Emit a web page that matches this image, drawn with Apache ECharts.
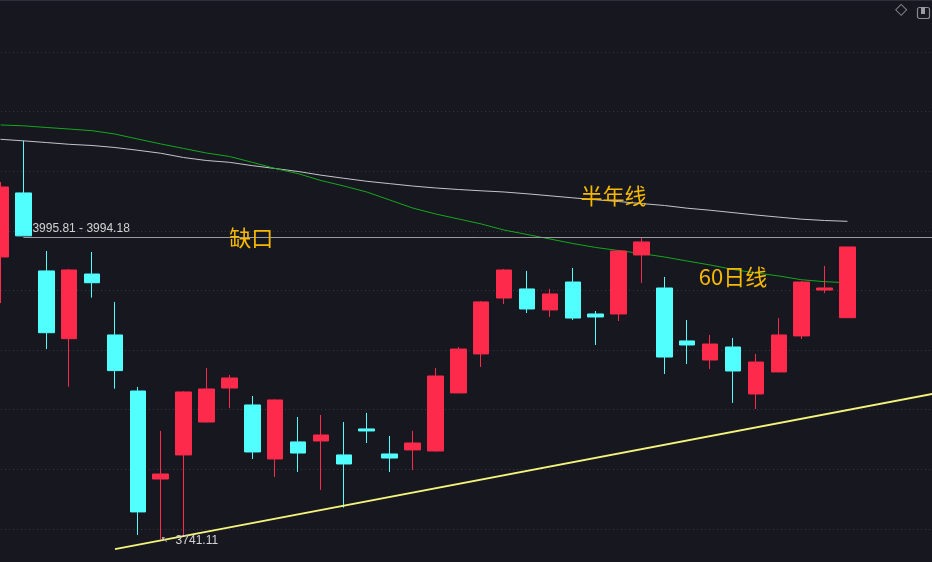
<!DOCTYPE html>
<html>
<head>
<meta charset="utf-8">
<script src="https://cdn.jsdelivr.net/npm/echarts@6/dist/echarts.min.js"></script>
<style>
  html, body { margin: 0; padding: 0; background: #17171f; }
  #main { width: 932px; height: 562px; }
</style>
</head>
<body>
<div id="main"></div>
<script>
// hidden category axis (38 visible candles + 4 empty slots on the right)
var categories = ['1','2','3','4','5','6','7','8','9','10','11','12','13','14','15','16','17','18','19','20','21',
  '22','23','24','25','26','27','28','29','30','31','32','33','34','35','36','37','38','39','40','41','42'];

// [open, close, low, high]
var candles = [
  [3978.1, 4036.8, 3939.5, 4041.0],
  [4031.8, 3995.81, 3995.81, 4075.6],
  [3966.4, 3914.6, 3900.9, 3983.1],
  [3909.6, 3967.2, 3869.3, 3968.0],
  [3963.8, 3956.5, 3944.0, 3982.3],
  [3912.7, 3882.8, 3867.7, 3940.4],
  [3865.7, 3764.3, 3745.0, 3869.1],
  [3791.9, 3796.1, 3741.11, 3832.2],
  [3812.1, 3864.9, 3743.6, 3865.5],
  [3839.7, 3867.4, 3839.2, 3885.0],
  [3868.2, 3876.6, 3851.5, 3879.1],
  [3854.0, 3814.6, 3808.7, 3861.5],
  [3808.7, 3858.2, 3793.6, 3858.7],
  [3823.0, 3813.7, 3797.8, 3843.9],
  [3823.8, 3828.8, 3782.7, 3845.6],
  [3812.1, 3804.5, 3767.9, 3839.7],
  [3833.9, 3832.2, 3822.1, 3847.3],
  [3812.9, 3809.5, 3797.8, 3828.0],
  [3816.3, 3822.1, 3799.5, 3832.2],
  [3815.4, 3878.3, 3815.0, 3885.0],
  [3864.1, 3900.9, 3863.8, 3902.6],
  [3896.8, 3940.4, 3885.9, 3941.2],
  [3943.7, 3967.2, 3938.7, 3968.0],
  [3951.3, 3934.5, 3931.1, 3966.4],
  [3933.7, 3947.1, 3927.8, 3951.3],
  [3957.1, 3926.9, 3925.3, 3968.9],
  [3930.3, 3927.8, 3904.3, 3932.8],
  [3930.3, 3983.1, 3924.4, 3983.5],
  [3979.8, 3990.7, 3956.3, 3994.18],
  [3952.1, 3894.2, 3880.0, 3961.3],
  [3907.7, 3904.3, 3888.4, 3925.3],
  [3891.7, 3905.1, 3884.2, 3912.7],
  [3902.6, 3882.5, 3855.7, 3910.2],
  [3863.2, 3890.0, 3850.6, 3896.8],
  [3881.7, 3912.7, 3881.3, 3926.9],
  [3911.9, 3957.1, 3909.3, 3958.0],
  [3950.4, 3952.1, 3947.9, 3970.6],
  [3927.2, 3986.5, 3927.2, 3986.5]
];

var ma60 = [4088.8, 4088.1, 4086.7, 4085.4, 4084.0, 4081.2, 4077.0, 4072.9, 4069.1, 4065.3,
  4062.4, 4057.5, 4052.3, 4048.0, 4042.2, 4037.6, 4032.6, 4025.9, 4019.2, 4014.2,
  4010.0, 4005.8, 4000.7, 3997.0, 3993.2, 3989.4, 3986.1, 3983.5, 3981.0, 3978.1,
  3974.7, 3971.4, 3967.6, 3964.7, 3962.2, 3959.0, 3957.4, 3956.5];

var halfYear = [4076.8, 4075.5, 4074.1, 4072.6, 4071.6, 4069.9, 4067.6, 4065.1, 4061.5, 4059.0,
  4057.5, 4054.7, 4052.3, 4049.8, 4046.7, 4044.1, 4041.6, 4039.6, 4037.6, 4036.0,
  4034.7, 4033.6, 4032.6, 4031.1, 4029.4, 4027.7, 4026.1, 4024.6, 4022.9, 4021.3,
  4019.0, 4017.3, 4015.3, 4013.3, 4011.5, 4009.8, 4008.7, 4008.0];

// support trend line [index, price]
var trendLine = [[5, 3733.1], [41, 3864.3]];

var gapLevel = 3995.0;
var gapText = '3995.81 - 3994.18';
var lowIndex = 7;
var lowValue = 3741.11;

var yTicks = { min: 3700, max: 4150, interval: 50 };

var upColor = '#fd2a4b';
var downColor = '#52ffff';
var gold = '#f6b800';

var chart = echarts.init(document.getElementById('main'));

chart.setOption({
  backgroundColor: '#17171f',
  animation: false,
  grid: {
    left: -10.95,
    width: 961.4,
    top: 52,
    height: 536.6,
    containLabel: false,
    outerBoundsMode: 'none'
  },
  xAxis: {
    type: 'category',
    data: categories,
    boundaryGap: true,
    axisLine: { show: false },
    axisTick: { show: false },
    axisLabel: { show: false },
    splitLine: { show: false }
  },
  yAxis: {
    type: 'value',
    min: yTicks.min,
    max: yTicks.max,
    interval: yTicks.interval,
    axisLine: { show: false },
    axisTick: { show: false },
    axisLabel: { show: false },
    splitLine: {
      show: true,
      lineStyle: { color: '#3a3a46', width: 1, type: [1, 3] }
    }
  },
  graphic: [
    { type: 'rect', left: 0, top: 0, shape: { width: 932, height: 1 }, style: { fill: '#2d3039' } },
    { type: 'text', left: 895, top: 2, style: { text: '◇', fill: '#8a8a92', fontSize: 16, fontFamily: 'DejaVu Sans' } },
    { type: 'rect', left: 915, top: 5, shape: { width: 12, height: 11, r: 2 }, style: { fill: 'none', stroke: '#8a8a92', lineWidth: 1.2 } },
    { type: 'rect', left: 921, top: 7, shape: { width: 4, height: 7 }, style: { fill: '#9a9aa2' } }
  ],
  series: [
    {
      name: '半年线',
      type: 'line',
      data: halfYear,
      symbol: 'none',
      smooth: false,
      clip: false,
      lineStyle: { color: '#c4c4c8', width: 1 },
      z: 2
    },
    {
      name: '60日线',
      type: 'line',
      data: ma60,
      symbol: 'none',
      smooth: false,
      clip: false,
      lineStyle: { color: '#14a81e', width: 1 },
      z: 2
    },
    {
      name: 'trend',
      type: 'line',
      data: trendLine,
      symbol: 'none',
      clip: false,
      lineStyle: { color: '#f4f47c', width: 2 },
      z: 4
    },
    {
      name: 'K',
      type: 'candlestick',
      data: candles,
      barWidth: 16,
      clip: false,
      z: 3,
      itemStyle: {
        color: upColor,
        color0: downColor,
        borderColor: upColor,
        borderColor0: downColor,
        borderWidth: 1
      },
      markLine: {
        silent: true,
        symbol: 'none',
        animation: false,
        lineStyle: { color: '#9a9a9e', width: 1, type: 'solid' },
        label: {
          show: true,
          position: 'insideStartTop',
          distance: [9, 2],
          formatter: gapText,
          color: '#d2d2d6',
          fontSize: 12,
          fontFamily: 'Liberation Sans'
        },
        data: [[{ coord: [1, gapLevel] }, { coord: [41, gapLevel] }]]
      },
      markPoint: {
        silent: true,
        symbol: 'circle',
        symbolSize: 0,
        animation: false,
        data: [
          {
            coord: [lowIndex, lowValue],
            label: {
              show: true,
              position: 'right',
              distance: 0,
              formatter: '{a|↖} {b|' + lowValue.toFixed(2) + '}',
              rich: {
                a: { color: '#b8b8bc', fontSize: 9, fontFamily: 'DejaVu Sans' },
                b: { color: '#d2d2d6', fontSize: 12, fontFamily: 'Liberation Sans', padding: [3, 0, 0, 4] }
              }
            }
          },
          {
            coord: [11, 3995.0],
            label: { show: true, position: 'inside', formatter: '缺口', color: gold, fontSize: 22, fontFamily: 'Noto Sans CJK SC', offset: [-1, 1] }
          },
          {
            coord: [27, 4029.2],
            label: { show: true, position: 'inside', formatter: '半年线', color: gold, fontSize: 22, fontFamily: 'Noto Sans CJK SC', offset: [-5, 0] }
          },
          {
            coord: [32, 3961.3],
            label: { show: true, position: 'inside', formatter: '60日线', color: gold, fontSize: 22, fontFamily: 'Noto Sans CJK SC', offset: [0, 0] }
          }
        ]
      }
    }
  ]
});
</script>
</body>
</html>
